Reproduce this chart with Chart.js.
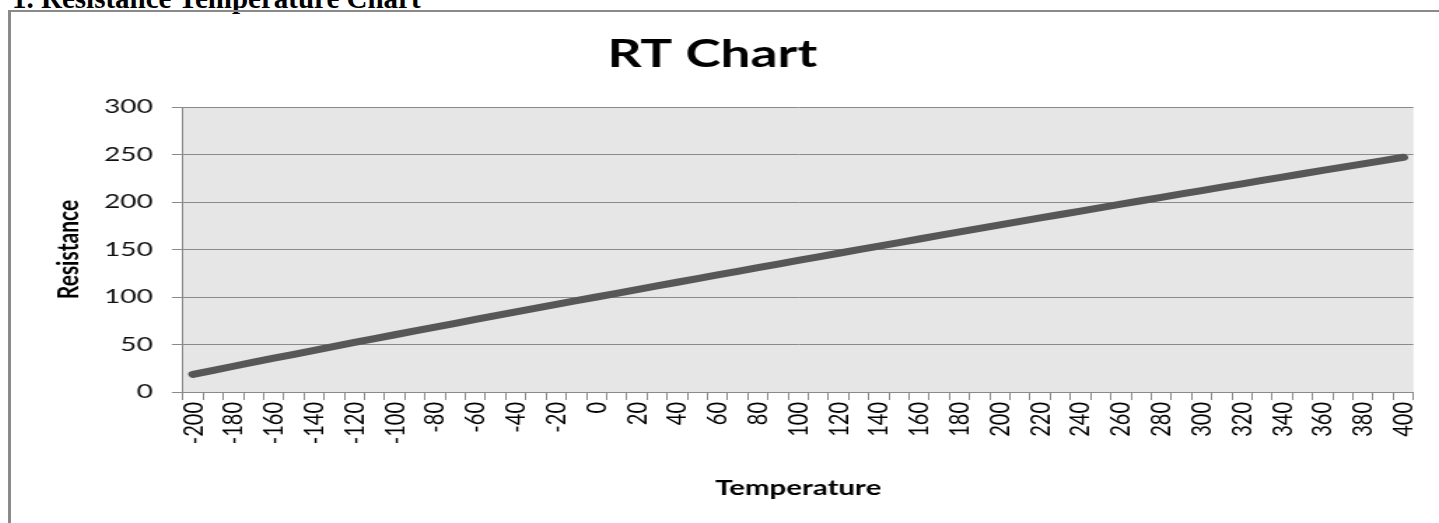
<!DOCTYPE html>
<html><head><meta charset="utf-8">
<script src="https://cdn.jsdelivr.net/npm/chart.js@4.4.1/dist/chart.umd.min.js"></script>
<style>
html,body{margin:0;padding:0;background:#fff;overflow:hidden;width:1439px;height:523px;}
#heading{position:absolute;left:12px;top:-16px;font:bold 29px/29px "Liberation Serif","Times New Roman",serif;color:#000;white-space:nowrap;}
#box{position:absolute;left:8px;top:10px;width:1460px;height:600px;border-left:3px solid #8a8a8a;border-top:2px solid #8a8a8a;background:transparent;}
#c{position:absolute;left:0;top:0;}
</style></head><body>
<div id="heading">1. Resistance Temperature Chart</div>
<div id="box"><canvas id="c" width="1035" height="511" style="width:1449px;height:511px"></canvas></div>
<script>
const temperatures = [-200,-190,-180,-170,-160,-150,-140,-130,-120,-110,-100,-90,-80,-70,-60,-50,-40,-30,-20,-10,
  0,10,20,30,40,50,60,70,80,90,100,110,120,130,140,150,160,170,180,190,200,210,220,230,240,250,260,270,280,290,
  300,310,320,330,340,350,360,370,380,390,400];
const resistance = [18.52,22.83,27.10,31.34,35.54,39.72,43.88,48.00,52.11,56.19,60.26,64.30,68.33,72.33,76.33,80.31,84.27,88.22,92.16,96.09,
  100.00,103.90,107.79,111.67,115.54,119.40,123.24,127.08,130.90,134.71,138.51,142.29,146.07,149.83,153.58,157.33,161.05,164.77,168.48,172.17,
  175.86,179.53,183.19,186.84,190.47,194.10,197.71,201.31,204.90,208.48,212.05,215.61,219.15,222.68,226.21,229.72,233.21,236.70,240.18,243.64,247.09];
const yTickValues = [0,50,100,150,200,250,300];
const xLabelEvery = 20;

const plotBg = {
  id:'plotBg',
  beforeDraw(chart){
    const {ctx, chartArea:a} = chart;
    ctx.save();
    ctx.fillStyle = '#e6e6e6';
    ctx.fillRect(a.left, a.top, a.right - a.left, a.bottom - a.top);
    ctx.restore();
  }
};

new Chart(document.getElementById('c'), {
  type:'line',
  data:{
    labels: temperatures.map(String),
    datasets:[{
      label:'Resistance',
      data: resistance,
      borderColor:'#575757',
      borderWidth:7,
      pointRadius:0,
      borderCapStyle:'round',
      borderJoinStyle:'round',
      tension:0,
      fill:false
    }]
  },
  options:{
    responsive:false,
    animation:false,
    devicePixelRatio:1,
    layout:{padding:{left:0,right:33.3,top:0,bottom:0}},
    plugins:{
      legend:{display:false},
      tooltip:{enabled:false},
      title:{display:true,text:'RT Chart',color:'#000',
        font:{family:'Lato',weight:'bold',size:38,lineHeight:1.2},
        padding:{top:20,bottom:29.4}}
    },
    scales:{
      x:{
        type:'category',
        offset:true,
        grid:{offset:true,drawOnChartArea:false,drawTicks:true,tickLength:8,color:'#8a8a8a'},
        border:{display:true,color:'#8a8a8a'},
        ticks:{autoSkip:false,maxRotation:90,minRotation:90,padding:2,color:'#000',
          font:{family:'Lato',size:20},
          callback:function(v,i){const t=temperatures[i]; return t % xLabelEvery === 0 ? String(t) : '';}},
        title:{display:true,text:'Temperature',color:'#000',
          font:{family:'Lato',weight:'bold',size:21,lineHeight:1.2},
          padding:{top:0,bottom:22}},
        afterFit:function(s){s.height=131;}
      },
      y:{
        min:0,max:300,
        afterBuildTicks:function(s){s.ticks = yTickValues.map(v=>({value:v}));},
        grid:{color:'#8a8a8a',tickLength:8,drawTicks:true},
        border:{display:true,color:'#8a8a8a'},
        ticks:{padding:13.6,color:'#111',font:{family:'Lato',size:20}},
        title:{display:true,text:'Resistance',color:'#000',
          font:{family:'Lato',weight:'bold',size:21,lineHeight:1.2},
          padding:{top:29}},
        afterFit:function(s){s.width=122.9;}
      }
    }
  },
  plugins:[plotBg]
});
</script>
</body></html>
